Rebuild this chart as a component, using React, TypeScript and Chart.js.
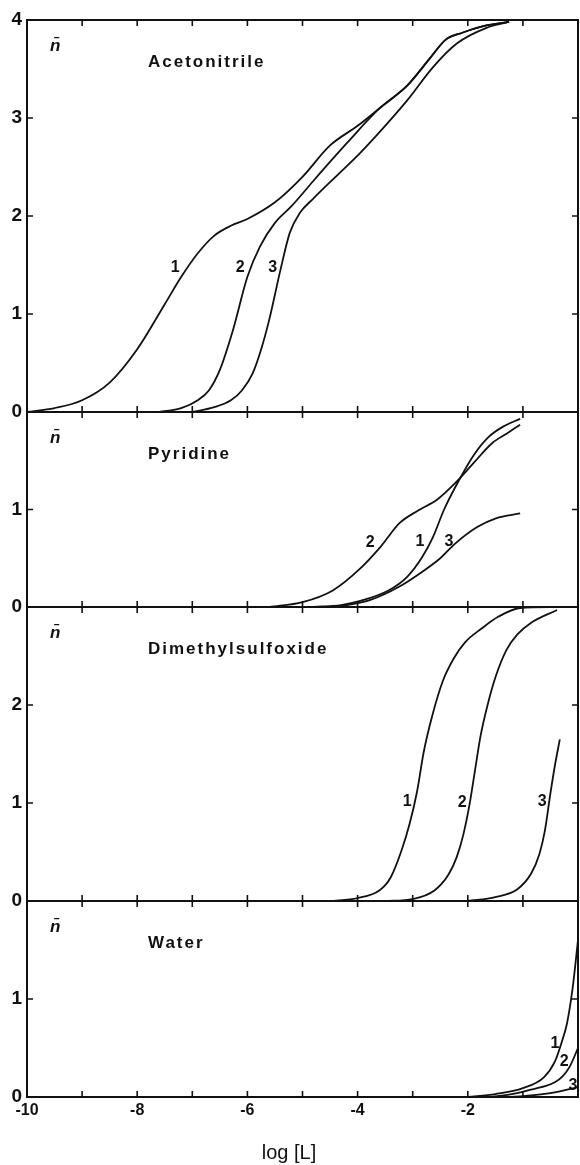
import React, { useEffect, useRef } from 'react';
import { Chart, registerables } from 'chart.js';

Chart.register(...registerables);

// ---- shared x axis: log [L] ----
const X_MIN = -10;
const X_MAX = 0;
const X_TICK_LABELS = [-10, -8, -6, -4, -2];

// ---- Acetonitrile ----
const acnLogL1 = [-10, -9.5, -9, -8.5, -8, -7.5, -7.2, -6.9, -6.6, -6.3, -6, -5.5, -5, -4.5, -4, -3.6, -3.1, -2.7, -2.4, -2.1, -1.7, -1.25];
const acnN1 = [0, 0.04, 0.12, 0.3, 0.64, 1.1, 1.38, 1.62, 1.8, 1.9, 1.97, 2.14, 2.4, 2.72, 2.92, 3.1, 3.33, 3.6, 3.8, 3.87, 3.94, 3.98];
const acnLogL2 = [-7.6, -7.2, -6.9, -6.7, -6.5, -6.26, -6, -5.77, -5.5, -5.2, -4.8, -4.2, -3.6, -3.1, -2.7, -2.4, -2.1, -1.7, -1.25];
const acnN2 = [0, 0.04, 0.12, 0.22, 0.43, 0.84, 1.38, 1.69, 1.93, 2.1, 2.36, 2.74, 3.1, 3.33, 3.6, 3.8, 3.87, 3.94, 3.98];
const acnLogL3 = [-7, -6.6, -6.3, -6.1, -5.9, -5.75, -5.6, -5.4, -5.23, -5.05, -4.8, -4.4, -3.96, -3.5, -3.1, -2.63, -2.2, -1.66, -1.25];
const acnN3 = [0, 0.05, 0.12, 0.22, 0.4, 0.64, 0.95, 1.45, 1.83, 2.03, 2.18, 2.4, 2.64, 2.92, 3.18, 3.52, 3.76, 3.92, 3.98];

// ---- Pyridine ----
const pyrLogL1 = [-4.8, -4.3, -3.97, -3.44, -3.1, -2.83, -2.63, -2.43, -2.16, -1.89, -1.63, -1.36, -1.05];
const pyrN1 = [0, 0.02, 0.06, 0.17, 0.31, 0.51, 0.72, 1.0, 1.3, 1.56, 1.74, 1.85, 1.93];
const pyrLogL2 = [-5.6, -5, -4.45, -3.98, -3.58, -3.24, -2.9, -2.56, -2.23, -1.89, -1.56, -1.29, -1.05];
const pyrN2 = [0, 0.05, 0.17, 0.38, 0.62, 0.86, 0.99, 1.1, 1.27, 1.48, 1.68, 1.78, 1.87];
const pyrLogL3 = [-4.6, -4.2, -3.78, -3.24, -2.78, -2.5, -2.23, -1.83, -1.49, -1.05];
const pyrN3 = [0, 0.02, 0.07, 0.21, 0.38, 0.5, 0.65, 0.82, 0.91, 0.96];

// ---- Dimethylsulfoxide ----
const dmsoLogL1 = [-4.5, -4, -3.6, -3.4, -3.2, -3.05, -2.92, -2.8, -2.65, -2.45, -2.25, -2.05, -1.75, -1.45, -1.05, -0.4];
const dmsoN1 = [0, 0.03, 0.11, 0.24, 0.52, 0.8, 1.12, 1.52, 1.88, 2.25, 2.48, 2.64, 2.78, 2.9, 2.99, 3.0];
const dmsoLogL2 = [-3.5, -3, -2.6, -2.35, -2.2, -2.08, -1.97, -1.87, -1.77, -1.65, -1.5, -1.3, -1.1, -0.85, -0.38];
const dmsoN2 = [0, 0.02, 0.11, 0.27, 0.45, 0.68, 0.98, 1.33, 1.68, 1.98, 2.28, 2.56, 2.72, 2.84, 2.97];
const dmsoLogL3 = [-2, -1.5, -1.1, -0.85, -0.7, -0.6, -0.5, -0.42, -0.33];
const dmsoN3 = [0, 0.04, 0.12, 0.28, 0.48, 0.72, 1.1, 1.38, 1.65];

// ---- Water ----
const watLogL1 = [-2, -1.5, -1, -0.62, -0.42, -0.29, -0.2, -0.1, 0];
const watN1 = [0, 0.03, 0.09, 0.2, 0.36, 0.57, 0.75, 1.1, 1.6];
const watLogL2 = [-1.6, -1.2, -0.89, -0.6, -0.42, -0.28, -0.15, 0];
const watN2 = [0, 0.03, 0.07, 0.11, 0.15, 0.21, 0.31, 0.5];
const watLogL3 = [-1.2, -0.8, -0.4, 0];
const watN3 = [0, 0.02, 0.05, 0.1];

// curve number tags: [text, log [L], n]
const acnTags: [string, number, number][] = [['1', -7.31, 1.47], ['2', -6.13, 1.47], ['3', -5.54, 1.47]];
const pyrTags: [string, number, number][] = [['2', -3.77, 0.66], ['1', -2.87, 0.67], ['3', -2.34, 0.67]];
const dmsoTags: [string, number, number][] = [['1', -3.1, 1.01], ['2', -2.1, 1.0], ['3', -0.65, 1.01]];
const watTags: [string, number, number][] = [['1', -0.42, 0.55], ['2', -0.25, 0.36], ['3', -0.09, 0.12]];

const FONT = '"Liberation Sans", Arial, Helvetica, sans-serif';
const INK = '#111';
const W = 580;
const H = 1165;
const CANVAS_W = 582; // 4px right padding leaves the frame at x = 578
const PX_PER_N = 97.9;
const FIRST_TOP = 20;
const PAD = 20;
const X_AXIS_H = 44;

type Panel = {
  name: string;
  nMax: number;
  curves: [number[], number[]][];
  tags: [string, number, number][];
};

const panels: Panel[] = [
  { name: 'Acetonitrile', nMax: 4, curves: [[acnLogL1, acnN1], [acnLogL2, acnN2], [acnLogL3, acnN3]], tags: acnTags },
  { name: 'Pyridine', nMax: 2, curves: [[pyrLogL1, pyrN1], [pyrLogL2, pyrN2], [pyrLogL3, pyrN3]], tags: pyrTags },
  { name: 'Dimethylsulfoxide', nMax: 3, curves: [[dmsoLogL1, dmsoN1], [dmsoLogL2, dmsoN2], [dmsoLogL3, dmsoN3]], tags: dmsoTags },
  { name: 'Water', nMax: 2, curves: [[watLogL1, watN1], [watLogL2, watN2], [watLogL3, watN3]], tags: watTags },
];

function panelGeometry(index: number) {
  let units = 0;
  for (let i = 0; i < index; i++) units += panels[i].nMax;
  const areaTop = Math.round(FIRST_TOP + units * PX_PER_N);
  const areaBottom = Math.round(FIRST_TOP + (units + panels[index].nMax) * PX_PER_N);
  const last = index === panels.length - 1;
  const canvasTop = areaTop - PAD;
  const canvasHeight = last ? H - canvasTop : areaBottom - areaTop + 2 * PAD;
  return { canvasTop, canvasHeight, last, first: index === 0 };
}

function makeFramePlugin(panel: Panel) {
  return {
    id: 'panelFrame',
    afterDatasetsDraw(chart: any) {
      const { ctx, chartArea: a } = chart;
      const xs = chart.scales.x;
      const ys = chart.scales.y;
      ctx.save();
      // box around the panel
      ctx.strokeStyle = INK;
      ctx.lineWidth = 2;
      ctx.strokeRect(a.left, a.top, a.right - a.left, a.bottom - a.top);
      // inward tick marks on all four sides
      const len = 6;
      ctx.lineWidth = 1.6;
      ctx.beginPath();
      for (let v = X_MIN + 1; v < X_MAX; v++) {
        const px = xs.getPixelForValue(v);
        ctx.moveTo(px, a.bottom);
        ctx.lineTo(px, a.bottom - len);
        ctx.moveTo(px, a.top);
        ctx.lineTo(px, a.top + len);
      }
      for (let v = 1; v < panel.nMax; v++) {
        const py = ys.getPixelForValue(v);
        ctx.moveTo(a.left, py);
        ctx.lineTo(a.left + len, py);
        ctx.moveTo(a.right, py);
        ctx.lineTo(a.right - len, py);
      }
      ctx.stroke();

      ctx.fillStyle = INK;
      ctx.textBaseline = 'middle';
      // n-bar symbol
      ctx.textAlign = 'left';
      ctx.font = `italic bold 17px ${FONT}`;
      ctx.fillText('n\u0304', a.left + 23, a.top + 26);
      // solvent name
      ctx.font = `bold 17px ${FONT}`;
      (ctx as any).letterSpacing = '2px';
      ctx.fillText(panel.name, a.left + 121, a.top + 42);
      (ctx as any).letterSpacing = '0px';
      // curve numbers
      ctx.textAlign = 'center';
      ctx.font = `bold 16px ${FONT}`;
      for (const [t, lx, ln] of panel.tags) {
        ctx.fillText(t, xs.getPixelForValue(lx), ys.getPixelForValue(ln));
      }
      ctx.restore();
    },
  };
}

function PanelChart({ index }: { index: number }) {
  const ref = useRef<HTMLCanvasElement | null>(null);
  const panel = panels[index];
  const g = panelGeometry(index);

  useEffect(() => {
    if (!ref.current) return;
    const chart = new Chart(ref.current, {
      type: 'line',
      data: {
        datasets: panel.curves.map(([xs, ys], i) => ({
          label: `${panel.name} ${i + 1}`,
          data: xs.map((x, k) => ({ x, y: ys[k] })),
          borderColor: INK,
          borderWidth: 1.8,
          pointRadius: 0,
          fill: false,
          cubicInterpolationMode: 'monotone' as const,
        })),
      },
      options: {
        responsive: false,
        animation: false,
        devicePixelRatio: 1,
        events: [],
        layout: { autoPadding: false, padding: { top: PAD, bottom: g.last ? 0 : PAD, left: 0, right: 4 } },
        scales: {
          x: {
            type: 'linear',
            min: X_MIN,
            max: X_MAX,
            display: g.last,
            grid: { display: false, drawTicks: false },
            border: { display: false },
            ticks: {
              stepSize: 1,
              autoSkip: false,
              maxRotation: 0,
              padding: 4,
              color: INK,
              font: { family: FONT, size: 16, weight: 'bold' },
              callback: (v: any) => (X_TICK_LABELS.includes(Number(v)) ? String(v) : ''),
            },
            afterFit: (s: any) => {
              s.height = g.last ? X_AXIS_H : 0;
            },
          },
          y: {
            type: 'linear',
            min: 0,
            max: panel.nMax,
            grid: { display: false, drawTicks: false },
            border: { display: false },
            ticks: {
              stepSize: 1,
              padding: 5,
              color: INK,
              font: { family: FONT, size: 19, weight: 'bold' },
              callback: (v: any) => (Number(v) === panel.nMax && !g.first ? '' : String(v)),
            },
            afterFit: (s: any) => {
              s.width = 27;
            },
          },
        },
        plugins: {
          legend: { display: false },
          tooltip: { enabled: false },
          title: {
            display: g.last,
            text: 'log [L]',
            position: 'bottom',
            color: INK,
            font: { family: FONT, size: 20, weight: 'normal' },
            padding: { top: 0, bottom: 0 },
          },
        },
      },
      plugins: [makeFramePlugin(panel)],
    } as any);
    return () => chart.destroy();
  }, [index]);

  return (
    <canvas
      ref={ref}
      width={CANVAS_W}
      height={g.canvasHeight}
      style={{ position: 'absolute', left: 0, top: g.canvasTop, width: CANVAS_W, height: g.canvasHeight }}
    />
  );
}

export default function App() {
  return (
    <div style={{ position: 'absolute', left: 0, top: 0, width: W, height: H, background: '#fff', overflow: 'hidden' }}>
      {panels.map((_, i) => (
        <PanelChart key={i} index={i} />
      ))}
    </div>
  );
}
